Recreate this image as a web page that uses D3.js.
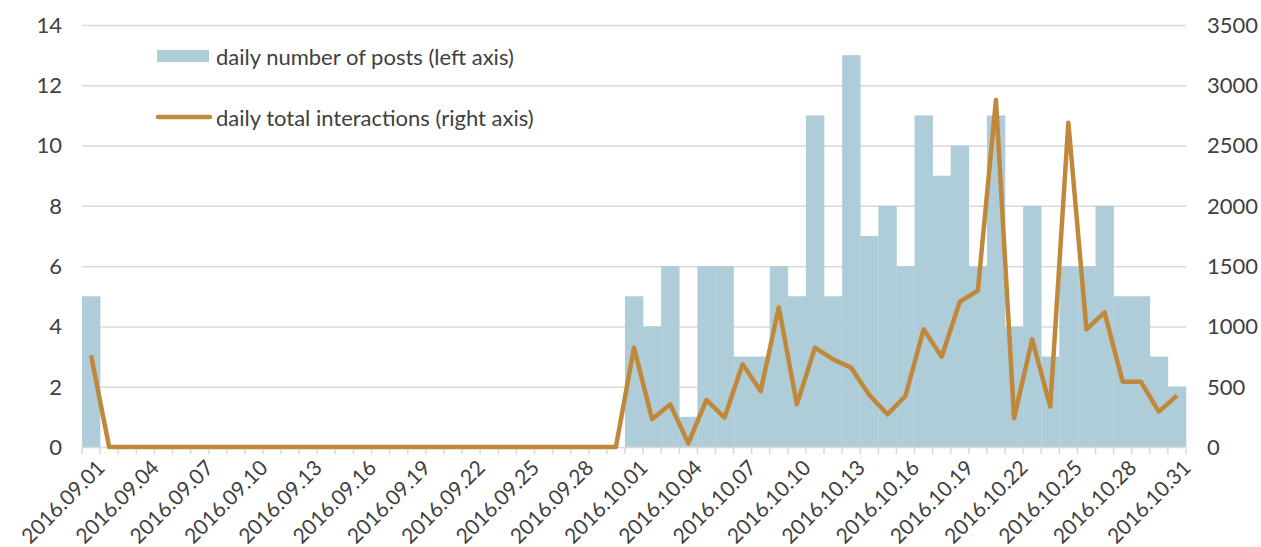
<!DOCTYPE html>
<html>
<head>
<meta charset="utf-8">
<script src="https://cdn.jsdelivr.net/npm/d3@7"></script>
<style>
  body { margin: 0; background: #fff; }
  svg { display: block; font-family: Lato, "Liberation Sans", sans-serif; }
</style>
</head>
<body>
<svg id="chart"></svg>
<script>
// days shown on the category axis
const dates = [
  "2016.09.01","2016.09.02","2016.09.03","2016.09.04","2016.09.05","2016.09.06","2016.09.07","2016.09.08","2016.09.09","2016.09.10",
  "2016.09.11","2016.09.12","2016.09.13","2016.09.14","2016.09.15","2016.09.16","2016.09.17","2016.09.18","2016.09.19","2016.09.20",
  "2016.09.21","2016.09.22","2016.09.23","2016.09.24","2016.09.25","2016.09.26","2016.09.27","2016.09.28","2016.09.29","2016.09.30",
  "2016.10.01","2016.10.02","2016.10.03","2016.10.04","2016.10.05","2016.10.06","2016.10.07","2016.10.08","2016.10.09","2016.10.10",
  "2016.10.11","2016.10.12","2016.10.13","2016.10.14","2016.10.15","2016.10.16","2016.10.17","2016.10.18","2016.10.19","2016.10.20",
  "2016.10.21","2016.10.22","2016.10.23","2016.10.24","2016.10.25","2016.10.26","2016.10.27","2016.10.28","2016.10.29","2016.10.30",
  "2016.10.31"
];

// daily number of posts (left axis)
const posts = [
  5,0,0,0,0,0,0,0,0,0,
  0,0,0,0,0,0,0,0,0,0,
  0,0,0,0,0,0,0,0,0,0,
  5,4,6,1,6,6,3,3,6,5,
  11,5,13,7,8,6,11,9,10,6,
  11,4,8,3,6,6,8,5,5,3,
  2
];

// daily total interactions (right axis)
const interactions = [
  760,0,0,0,0,0,0,0,0,0,
  0,0,0,0,0,0,0,0,0,0,
  0,0,0,0,0,0,0,0,0,0,
  824,230,354,30,390,243,686,464,1158,354,
  824,727,658,431,271,423,976,749,1205,1297,
  2878,238,893,335,2690,976,1117,542,542,293,
  426
];

const leftTicks = [0, 2, 4, 6, 8, 10, 12, 14];
const rightTicks = [0, 500, 1000, 1500, 2000, 2500, 3000, 3500];

const width = 1261;
const height = 547;
const marginLeft = 82;
const marginRight = 75;
const marginTop = 25;
const marginBottom = 100;
const fontSize = 22;

const svg = d3.select("#chart")
    .attr("width", width)
    .attr("height", height);

const x = d3.scaleBand()
    .domain(dates)
    .range([marginLeft, width - marginRight])
    .padding(0);

const yLeft = d3.scaleLinear()
    .domain([0, 14])
    .range([height - marginBottom, marginTop]);

const yRight = d3.scaleLinear()
    .domain([0, 3500])
    .range([height - marginBottom, marginTop]);

// gridlines
svg.append("g")
    .selectAll("line")
    .data(leftTicks.slice(1))
    .join("line")
    .attr("x1", marginLeft)
    .attr("x2", width - marginRight)
    .attr("y1", d => yLeft(d) + 0.5)
    .attr("y2", d => yLeft(d) + 0.5)
    .attr("stroke", "#d9d9d9")
    .attr("stroke-width", 1.5);

// bars
svg.append("g")
    .attr("fill", "#aecdd9")
    .selectAll("rect")
    .data(posts)
    .join("rect")
    .attr("x", (d, i) => x(dates[i]))
    .attr("width", x.bandwidth() + 0.3)
    .attr("y", d => yLeft(d))
    .attr("height", d => yLeft(0) - yLeft(d));

// x axis line + tick marks at category boundaries
const xAxis = svg.append("g")
    .attr("transform", `translate(0,${yLeft(0)})`);
xAxis.append("line")
    .attr("x1", marginLeft)
    .attr("x2", width - marginRight)
    .attr("y1", 0.5).attr("y2", 0.5)
    .attr("stroke", "#d9d9d9")
    .attr("stroke-width", 1.5);
xAxis.selectAll(".tk")
    .data(dates.concat(["end"]))
    .join("line")
    .attr("class", "tk")
    .attr("x1", (d, i) => marginLeft + i * x.step())
    .attr("x2", (d, i) => marginLeft + i * x.step())
    .attr("y1", 0).attr("y2", 7)
    .attr("stroke", "#d9d9d9")
    .attr("stroke-width", 1.5);

// rotated labels, every 3rd day
xAxis.selectAll("text")
    .data(dates.filter((d, i) => i % 3 === 0))
    .join("text")
    .attr("transform", d => `translate(${x(d) + x.bandwidth() / 2 + 4},${11}) rotate(-45)`)
    .attr("text-anchor", "end")
    .attr("dy", "0.75em")
    .attr("fill", "#404040")
    .attr("font-size", 21)
    .text(d => d);

// left axis labels
svg.append("g")
    .selectAll("text")
    .data(leftTicks)
    .join("text")
    .attr("x", 62)
    .attr("y", d => yLeft(d))
    .attr("dy", "0.36em")
    .attr("text-anchor", "end")
    .attr("fill", "#404040")
    .attr("font-size", fontSize)
    .text(d => d);

// right axis labels
svg.append("g")
    .selectAll("text")
    .data(rightTicks)
    .join("text")
    .attr("x", 1207)
    .attr("y", d => yRight(d))
    .attr("dy", "0.36em")
    .attr("text-anchor", "start")
    .attr("fill", "#404040")
    .attr("font-size", fontSize)
    .text(d => d);

// line
const line = d3.line()
    .x((d, i) => x(dates[i]) + x.bandwidth() / 2)
    .y(d => yRight(d));

svg.append("path")
    .datum(interactions)
    .attr("fill", "none")
    .attr("stroke", "#c0883a")
    .attr("stroke-width", 4.5)
    .attr("stroke-linejoin", "round")
    .attr("d", line);

// legend
const legend = svg.append("g");
legend.append("rect")
    .attr("x", 157).attr("y", 50)
    .attr("width", 52).attr("height", 12)
    .attr("fill", "#aecdd9");
legend.append("text")
    .attr("x", 216).attr("y", 57)
    .attr("dy", "0.36em")
    .attr("fill", "#404040")
    .attr("font-size", fontSize)
    .text("daily number of posts (left axis)");
legend.append("line")
    .attr("x1", 158).attr("x2", 210)
    .attr("y1", 117).attr("y2", 117)
    .attr("stroke", "#c0883a")
    .attr("stroke-width", 4.5)
    .attr("stroke-linecap", "round");
legend.append("text")
    .attr("x", 216).attr("y", 118)
    .attr("dy", "0.36em")
    .attr("fill", "#404040")
    .attr("font-size", fontSize)
    .text("daily total interactions (right axis)");
</script>
</body>
</html>
